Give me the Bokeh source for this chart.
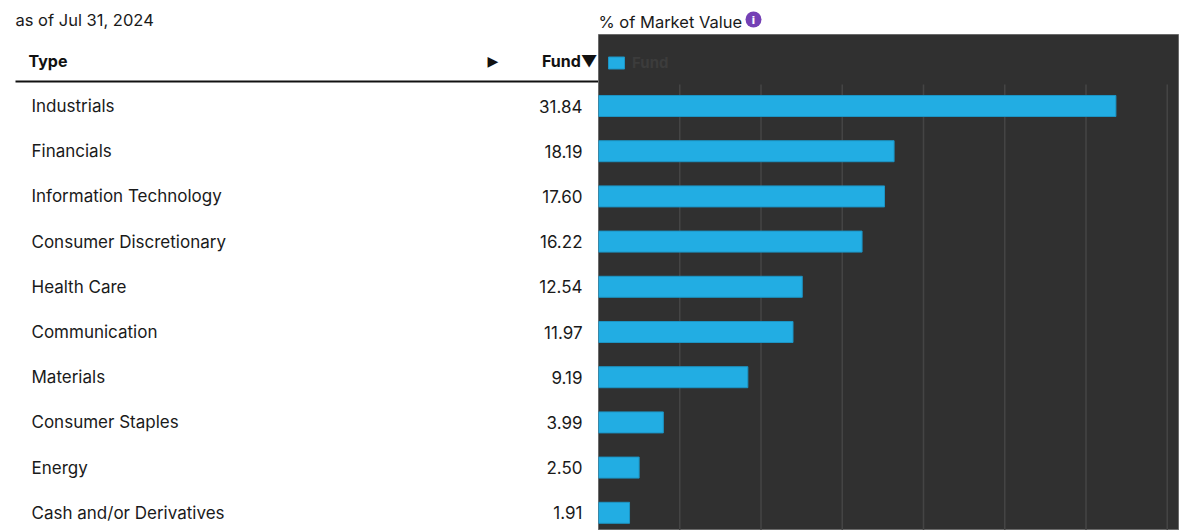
from bokeh.plotting import figure
from bokeh.layouts import column, row
from bokeh.models import Range1d
from bokeh.core.properties import value
from bokeh.embed import file_html
from bokeh.resources import INLINE

# Sector exposure, % of market value
sectors = [
    "Industrials",
    "Financials",
    "Information Technology",
    "Consumer Discretionary",
    "Health Care",
    "Communication",
    "Materials",
    "Consumer Staples",
    "Energy",
    "Cash and/or Derivatives",
]
fund = [31.84, 18.19, 17.60, 16.22, 12.54, 11.97, 9.19, 3.99, 2.50, 1.91]
grid_ticks = [5, 10, 15, 20, 25, 30, 35]
as_of = "as of Jul 31, 2024"
chart_title = "% of Market Value"
series_name = "Fund"

FONT = "Inter"
BAR = "#22ADE3"
PANEL = "#303030"

idx = list(range(len(sectors)))
value_text = [f"{v:.2f}" for v in fund]

# vertical geometry (pixels)
HEADER_H = 34
BODY_H = 496
PITCH = 45.2
FIRST_ROW = 71.5        # centre of first row below top of body
def ry(px):
    """pixel offset within body -> row units"""
    return (px - FIRST_ROW) / PITCH

y_range = Range1d(start=ry(BODY_H), end=ry(0))

# ---------------- header strip ----------------
head = figure(width=1200, height=HEADER_H, x_range=Range1d(0, 1200),
              y_range=Range1d(HEADER_H, 0), output_backend="svg",
              toolbar_location=None, min_border=0)
head.axis.visible = False
head.grid.visible = False
head.outline_line_color = None
head.text(x=[15], y=[19], text=[as_of], text_font=value(FONT),
          text_font_size="16.5px", text_color="#1a1a1a", text_baseline="middle")
head.text(x=[598], y=[21], text=[chart_title], text_font=value(FONT),
          text_font_size="16.5px", text_color="#1a1a1a", text_baseline="middle")
head.scatter(x=[753], y=[19], size=16, marker="circle",
             fill_color="#7440B5", line_color=None)
head.text(x=[753], y=[19.5], text=["i"], text_font=value("DejaVu Sans"),
          text_font_size="11px", text_font_style="bold", text_color="white",
          text_align="center", text_baseline="middle")

# ---------------- table (left) ----------------
left = figure(width=598, height=BODY_H, x_range=Range1d(0, 598),
              y_range=y_range, output_backend="svg", toolbar_location=None,
              min_border=0)
left.axis.visible = False
left.grid.visible = False
left.outline_line_color = None

left.text(x=[28], y=[ry(26)], text=["Type"], text_font=value(FONT),
          text_font_size="16px", text_font_style="bold", text_color="#111",
          text_baseline="middle")
left.text(x=[487], y=[ry(26)], text=["▶"], text_font=value("DejaVu Sans"),
          text_font_size="14px", text_color="#111", text_baseline="middle")
left.text(x=[597], y=[ry(26)], text=[series_name + "▼"], text_font=value(FONT),
          text_font_size="16px", text_font_style="bold", text_color="#111",
          text_align="right", text_baseline="middle")
left.segment(x0=[15], x1=[598], y0=[ry(47)], y1=[ry(47)],
             line_color="#111", line_width=2)

left.text(x=31, y=idx, text=sectors, text_font=value(FONT),
          text_font_size="17px", text_color="#1a1a1a", text_baseline="middle")
left.text(x=582, y=idx, text=value_text, text_font=value(FONT),
          text_font_size="17px", text_color="#1a1a1a", text_align="right",
          text_baseline="middle")

# ---------------- bar chart (right) ----------------
PX_PER_UNIT = 16.25
right = figure(width=602, height=BODY_H, x_range=Range1d(0, 580 / PX_PER_UNIT),
               y_range=y_range, output_backend="svg", toolbar_location=None,
               min_border_left=0, min_border_right=22, min_border_top=0,
               min_border_bottom=0)
right.axis.visible = False
right.grid.visible = False
right.background_fill_color = PANEL
right.border_fill_color = "white"
right.outline_line_color = "#6a6a6a"
right.outline_line_width = 1

right.segment(x0=grid_ticks, x1=grid_ticks, y0=ry(50), y1=ry(BODY_H + 5),
              line_color="#444444", line_width=1.5)

right.hbar(y=idx, left=0, right=fund, height=0.465, fill_color=BAR,
           line_color="#1c94c4", line_width=1, legend_label=series_name)

leg = right.legend[0]
leg.location = (8, 458)
leg.margin = 0
leg.padding = 0
leg.glyph_width = 20
leg.glyph_height = 15
leg.label_height = 15
leg.label_standoff = 6
leg.background_fill_alpha = 0
leg.border_line_color = None
leg.label_text_color = "#3c3c3c"
leg.label_text_font = FONT
leg.label_text_font_size = "15px"
leg.label_text_font_style = "bold"

layout = column(head, row(left, right, spacing=0), spacing=0)

with open("out.html", "w") as f:
    f.write(file_html(layout, INLINE))
